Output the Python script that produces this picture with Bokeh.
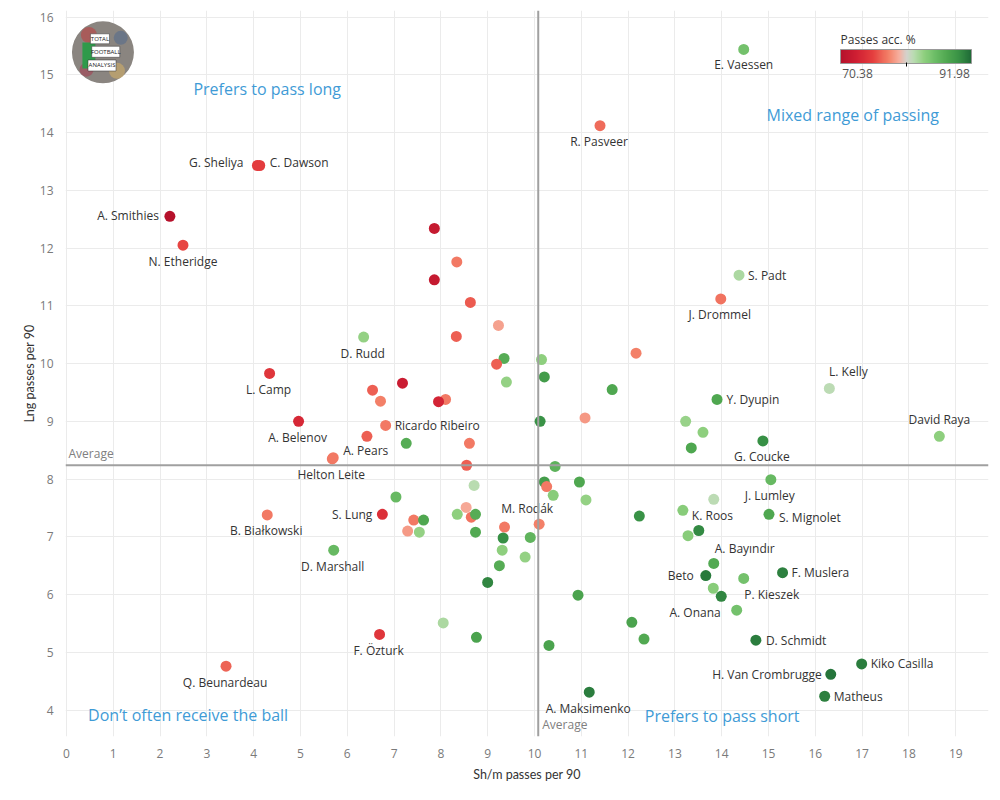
import numpy as np
from bokeh.plotting import figure
from bokeh.models import (ColumnDataSource, Range1d, Span, Label, LinearColorMapper,
                          ColorBar, FixedTicker)
from bokeh.core.properties import value, field
from bokeh.embed import file_html
from bokeh.resources import INLINE

# ---------------- data ----------------
players = [
    "E. Vaessen", "R. Pasveer", "G. Sheliya", "C. Dawson", "A. Smithies", "N. Etheridge",
    # 7-22
    "", "", "", "", "", "S. Padt", "J. Drommel", "D. Rudd",
    "", "", "", "", "", "", "", "",
    # 23-32
    "", "", "", "", "", "L. Kelly", "Y. Dyupin", "L. Camp", "A. Belenov", "Ricardo Ribeiro",
    # 33-44
    "", "", "", "", "", "", "", "", "G. Coucke", "David Raya", "A. Pears", "Helton Leite",
    # 45-58
    "", "", "", "", "", "", "", "", "", "J. Lumley", "", "", "K. Roos", "S. Mignolet",
    # 59-74
    "S. Lung",
    "", "", "", "",
    "", "", "", "",
    "", "", "", "",
    "M. Rodák", "", "",
    # 75-84
    "D. Marshall", "", "", "", "", "A. Bayındır", "Beto", "", "F. Muslera", "",
    # 85-94
    "P. Kieszek", "A. Onana", "", "", "", "", "", "F. Özturk", "", "D. Schmidt",
    # 95-99
    "Kiko Casilla", "H. Van Crombrugge", "Matheus", "Q. Beunardeau", "A. Maksimenko",
    # 100
    "B. Białkowski",
]
sh_m_passes = [
    14.47, 11.40, 4.08, 4.13, 2.21, 2.49,
    7.86, 8.34, 7.86, 8.63, 9.23, 14.37, 13.98, 6.35, 8.33, 9.35, 10.15, 9.19, 12.17, 10.21, 9.40, 11.66,
    7.18, 6.54, 6.71, 8.10, 7.95, 16.30, 13.90, 4.34, 4.96, 6.82,
    10.12, 11.08, 13.23, 6.42, 7.26, 8.61, 13.35, 13.60, 14.88, 18.65, 5.70, 5.68,
    8.55, 10.44, 10.21, 10.26, 10.96, 8.71, 7.04, 10.40, 11.10, 15.05, 13.83, 12.24, 13.17, 15.01,
    6.75, 7.42, 7.63, 7.29, 7.54, 8.35, 8.54, 8.65, 8.74, 8.74, 9.36, 9.33, 9.91, 10.10, 13.51, 13.28,
    5.71, 9.31, 9.80, 9.25, 9.00, 13.83, 13.66, 14.47, 15.30, 13.82,
    13.99, 14.32, 10.93, 8.05, 12.08, 8.76, 12.34, 6.69, 10.31, 14.73,
    16.99, 16.33, 16.20, 3.41, 11.17,
    4.29,
]
lng_passes = [
    15.44, 14.12, 13.43, 13.43, 12.55, 12.05,
    12.34, 11.76, 11.45, 11.06, 10.66, 11.53, 11.12, 10.46, 10.47, 10.09, 10.07, 9.99, 10.18, 9.77, 9.68, 9.55,
    9.66, 9.54, 9.35, 9.38, 9.34, 9.57, 9.38, 9.83, 9.00, 8.93,
    9.00, 9.06, 9.00, 8.74, 8.62, 8.62, 8.54, 8.81, 8.66, 8.74, 8.37, 8.35,
    8.24, 8.22, 7.95, 7.87, 7.95, 7.89, 7.69, 7.72, 7.64, 7.99, 7.65, 7.36, 7.46, 7.39,
    7.39, 7.29, 7.29, 7.10, 7.08, 7.39, 7.51, 7.34, 7.39, 7.08, 7.17, 6.98, 6.99, 7.22, 7.11, 7.02,
    6.77, 6.77, 6.65, 6.50, 6.21, 6.54, 6.33, 6.28, 6.38, 6.11,
    5.97, 5.73, 5.99, 5.51, 5.52, 5.26, 5.23, 5.31, 5.12, 5.21,
    4.80, 4.62, 4.24, 4.76, 4.31,
    7.38,
]
pass_acc = [
    85.5, 77.5, 75.5, 75.5, 70.5, 76.0,
    72.0, 78.0, 72.0, 76.8, 79.5, 83.0, 77.8, 84.0, 77.0, 87.5, 84.3, 77.0, 78.3, 89.0, 84.0, 88.0,
    72.5, 77.0, 78.3, 78.0, 73.5, 82.3, 88.0, 75.0, 73.8, 78.0,
    89.8, 79.2, 83.8, 77.0, 87.5, 78.0, 88.0, 84.3, 90.0, 84.3, 78.0, 78.0,
    77.0, 87.0, 88.8, 78.0, 88.0, 82.5, 86.3, 84.5, 84.0, 86.3, 82.3, 89.8, 84.5, 88.0,
    74.5, 78.0, 88.0, 79.3, 84.0, 84.3, 79.8, 77.8, 87.5, 87.8, 78.0, 90.0, 86.8, 78.3, 90.3, 84.5,
    86.3, 84.3, 84.0, 87.5, 90.5, 87.8, 91.2, 85.5, 90.8, 84.5,
    90.5, 85.5, 88.3, 83.0, 88.3, 88.3, 87.8, 75.0, 88.3, 91.0,
    91.0, 91.4, 90.8, 77.2, 91.0,
    78.0,
]
assert len(players) == len(sh_m_passes) == len(lng_passes) == len(pass_acc)

acc_low, acc_high = 70.38, 91.98
avg_sh_m = 10.08
avg_lng = 8.24

x_ticks = list(range(0, 20))
y_ticks = list(range(4, 17))

quadrant_texts = ["Prefers to pass long", "Mixed range of passing",
                  "Don\u2019t often receive the ball", "Prefers to pass short"]

# ---------------- layout / style ----------------
# label placement: name -> (dx px, dy px (down), align)
label_place = {
    "E. Vaessen": (0, 15.5, "center"), "R. Pasveer": (-1, 15.5, "center"),
    "G. Sheliya": (-14, -3, "right"), "C. Dawson": (10, -3, "left"),
    "A. Smithies": (-11, -1, "right"), "N. Etheridge": (0, 16, "center"),
    "S. Padt": (9, 0, "left"), "J. Drommel": (-1, 15.5, "center"),
    "D. Rudd": (-1, 16, "center"), "L. Kelly": (19, -17, "center"),
    "Y. Dyupin": (9.5, 0, "left"), "L. Camp": (-1, 16, "center"),
    "A. Belenov": (-1, 16, "center"), "Ricardo Ribeiro": (9, 0, "left"),
    "G. Coucke": (-1, 15.5, "center"), "David Raya": (0, -17, "center"),
    "A. Pears": (10, -7, "left"), "Helton Leite": (-1, 16, "center"),
    "J. Lumley": (-1, 15.5, "center"), "M. Rodák": (-12, -16, "center"),
    "S. Lung": (-10, 0, "right"), "B. Białkowski": (-1, 16, "center"),
    "K. Roos": (9, 5, "left"), "S. Mignolet": (10, 3, "left"),
    "D. Marshall": (-1, 16, "center"), "A. Bayındır": (31, -15, "center"),
    "Beto": (-12, 0, "right"), "F. Muslera": (9, 0, "left"),
    "P. Kieszek": (23, -2, "left"), "A. Onana": (-16, 2, "right"),
    "D. Schmidt": (10, 0, "left"), "Kiko Casilla": (9, 0, "left"),
    "H. Van Crombrugge": (-9, 0, "right"), "Matheus": (9, 0, "left"),
    "Q. Beunardeau": (-1, 16, "center"), "A. Maksimenko": (-1, 16, "center"),
    "F. Özturk": (-1, 16, "center"),
}

quad_pos = [(4.29, 14.76), (16.80, 14.31), (2.60, 3.92), (14.01, 3.89)]

# diverging red-grey-green palette
anchors_t = [0.0, 0.12, 0.25, 0.37, 0.45, 0.505, 0.56, 0.64, 0.72, 0.82, 0.91, 1.0]
anchors_c = ["#b5112b", "#cf1f33", "#e6403f", "#f4836a", "#f6b0a0", "#d3d3cd",
             "#b9dcb0", "#8fd07f", "#6cbd66", "#4ea64f", "#379045", "#1f6b37"]


def hex2rgb(h):
    h = h.lstrip("#")
    return [int(h[i:i + 2], 16) for i in (0, 2, 4)]


rgbs = np.array([hex2rgb(c) for c in anchors_c], dtype=float)
palette = []
for t in np.linspace(0, 1, 256):
    r = np.interp(t, anchors_t, rgbs[:, 0])
    g = np.interp(t, anchors_t, rgbs[:, 1])
    b = np.interp(t, anchors_t, rgbs[:, 2])
    palette.append("#%02x%02x%02x" % (int(round(r)), int(round(g)), int(round(b))))

mapper = LinearColorMapper(palette=palette, low=acc_low, high=acc_high)

FONT = "Open Sans"
TITLE_FONT = "Lato"

p = figure(width=992, height=792, output_backend="svg", toolbar_location=None,
           x_range=Range1d(-0.02, 19.70), y_range=Range1d(3.543, 16.114),
           min_border_left=65, min_border_right=4, min_border_top=10, min_border_bottom=56,
           background_fill_color="white", border_fill_color="white")
p.outline_line_color = None

p.xaxis.ticker = FixedTicker(ticks=x_ticks)
p.yaxis.ticker = FixedTicker(ticks=y_ticks)
p.xgrid.ticker = FixedTicker(ticks=x_ticks)
p.ygrid.ticker = FixedTicker(ticks=y_ticks)
p.grid.grid_line_color = "#ebebeb"
p.grid.grid_line_width = 1

p.axis.axis_line_color = None
p.axis.major_tick_line_color = None
p.axis.minor_tick_line_color = None
p.axis.major_label_text_font = FONT
p.axis.major_label_text_font_size = "12px"
p.axis.major_label_text_color = "#7a7a7a"
p.axis.axis_label_text_font = TITLE_FONT
p.axis.axis_label_text_font_size = "12.5px"
p.axis.axis_label_text_font_style = "normal"
p.axis.axis_label_text_color = "#333333"
p.xaxis.axis_label = "Sh/m passes per 90"
p.yaxis.axis_label = "Lng passes per 90"
p.xaxis.major_label_standoff = 6
p.xaxis.axis_label_standoff = 6
p.yaxis.major_label_standoff = 6
p.yaxis.axis_label_standoff = 0

# average lines
p.add_layout(Span(location=avg_sh_m, dimension="height", line_color="#a0a0a0", line_width=2))
p.add_layout(Span(location=avg_lng, dimension="width", line_color="#a0a0a0", line_width=2))
p.add_layout(Label(x=p.x_range.start, y=avg_lng, text="Average", x_offset=3, y_offset=3,
                   text_baseline="bottom", text_font=FONT, text_font_size="12px",
                   text_color="#808080"))
p.add_layout(Label(x=avg_sh_m, y=p.y_range.start, text="Average", x_offset=4, y_offset=4,
                   text_baseline="bottom", text_font=FONT, text_font_size="12px",
                   text_color="#808080"))

# logo (decoration)
lx, ly = 0.78, 15.39
p.scatter([lx], [ly], size=62, marker="circle", fill_color="#8a8580", line_color=None)
p.scatter([lx - 0.30, lx + 0.38, lx + 0.30, lx - 0.35],
          [ly + 0.30, ly + 0.25, ly - 0.32, ly - 0.30],
          size=[16, 14, 16, 14], marker="circle",
          fill_color=["#b54a4a", "#5e6f8a", "#c7a86b", "#a14a5a"], line_color=None, alpha=0.7)
p.rect([lx - 0.30], [ly - 0.055], width=13, height=26, width_units="screen", height_units="screen",
       fill_color="#2e9a4a", line_color=None)
p.rect([lx - 0.064, lx + 0.06, lx - 0.02], [ly + 0.234, ly + 0.009, ly - 0.228],
       width=[19, 28, 28], height=[10, 11, 11], width_units="screen", height_units="screen",
       fill_color="white", line_color="#333333", line_width=0.5)
p.text([lx - 0.064, lx + 0.06, lx - 0.02], [ly + 0.234, ly + 0.009, ly - 0.228],
       text=["TOTAL", "FOOTBALL", "ANALYSIS"], text_font=value(FONT), text_font_size="6px",
       text_align="center", text_baseline="middle", text_color="#222222")

# points
src = ColumnDataSource(dict(x=sh_m_passes, y=lng_passes, acc=pass_acc, name=players))
p.scatter("x", "y", source=src, size=11, marker="circle",
          fill_color={"field": "acc", "transform": mapper}, line_color=None)

# point labels
lab = dict(x=[], y=[], name=[], dx=[], dy=[], align=[])
for nm, xv, yv in zip(players, sh_m_passes, lng_passes):
    if nm and nm in label_place:
        dx, dy, al = label_place[nm]
        lab["x"].append(xv)
        lab["y"].append(yv)
        lab["name"].append(nm)
        lab["dx"].append(dx)
        lab["dy"].append(dy)
        lab["align"].append(al)
p.text("x", "y", text="name", x_offset="dx", y_offset="dy", text_align=field("align"),
       text_baseline="middle", text_font=value(FONT), text_font_size="12px",
       text_color="#333333", source=ColumnDataSource(lab))

# quadrant labels
for t, (qx, qy) in zip(quadrant_texts, quad_pos):
    p.add_layout(Label(x=qx, y=qy, text=t, text_align="center", text_baseline="middle",
                       text_font=FONT, text_font_size="16px", text_color="#3f9bd6"))

# colour legend
span = acc_high - acc_low
t1 = round(acc_low + 0.13 * span, 2)
t2 = round(acc_high - 0.13 * span, 2)
mid = round((acc_low + acc_high) / 2, 2)
cb = ColorBar(color_mapper=mapper, orientation="horizontal", location="top_right",
              width=131, height=14, title="Passes acc. %", title_text_font=FONT,
              title_text_font_size="12px", title_text_font_style="normal",
              title_text_color="#333333", title_standoff=3,
              ticker=FixedTicker(ticks=[t1, t2], minor_ticks=[mid]),
              major_label_overrides={t1: "%.2f" % acc_low, t2: "%.2f" % acc_high},
              major_label_text_font=FONT, major_label_text_font_size="12px",
              major_label_text_color="#555555", major_tick_line_color=None,
              minor_tick_line_color="black", minor_tick_in=1, minor_tick_out=3,
              bar_line_color="#999999", margin=5, padding=12, label_standoff=2,
              background_fill_alpha=0)
p.add_layout(cb)

open("out.html", "w").write(file_html(p, INLINE))
